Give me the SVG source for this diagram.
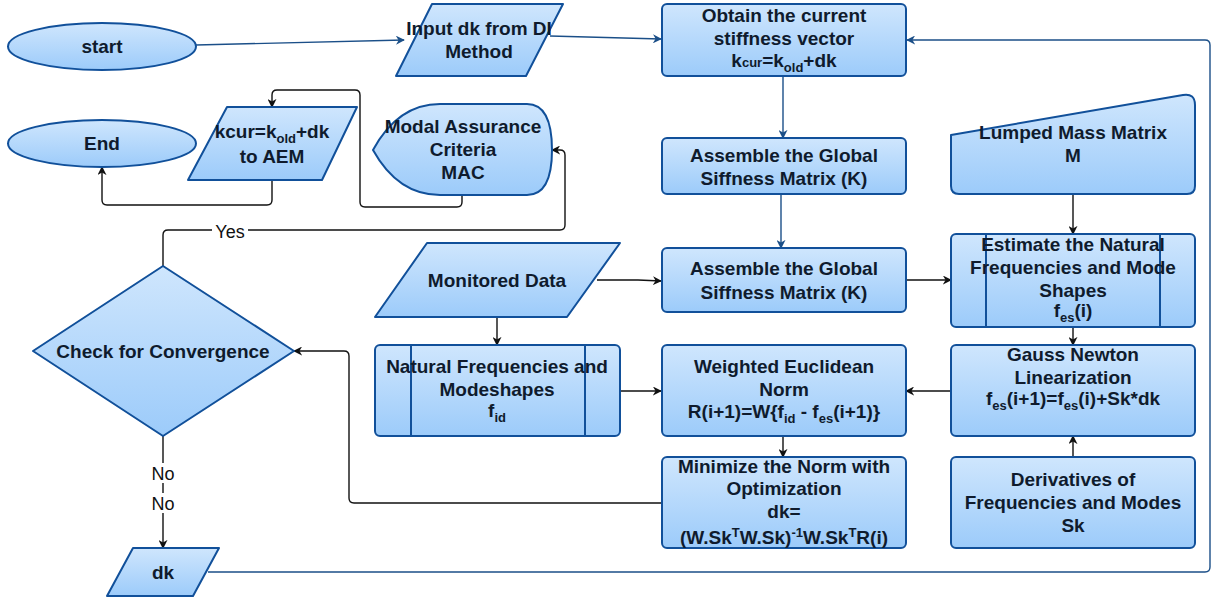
<svg xmlns="http://www.w3.org/2000/svg" width="1213" height="601" viewBox="0 0 1213 601">
  <defs>
    <linearGradient id="fillGrad" x1="0" y1="0" x2="0" y2="1">
      <stop offset="0" stop-color="#cfe6fd"/>
      <stop offset="1" stop-color="#9ccbfa"/>
    </linearGradient>
    <marker id="arrowBlue" viewBox="0 0 10 10" refX="9" refY="5" markerWidth="9" markerHeight="9" markerUnits="userSpaceOnUse" orient="auto">
      <path d="M0,0 L10,5 L0,10 L3,5 Z" fill="#1b4f88"/>
    </marker>
    <marker id="arrowBlack" viewBox="0 0 10 10" refX="9" refY="5" markerWidth="9" markerHeight="9" markerUnits="userSpaceOnUse" orient="auto">
      <path d="M0,0 L10,5 L0,10 L3,5 Z" fill="#111"/>
    </marker>
    <style>
      .shape { fill: url(#fillGrad); stroke: #11509a; stroke-width: 2; stroke-linejoin: round; }
      .inner { fill: none; stroke: #11509a; stroke-width: 2; }
      .lbl { font-family: "Liberation Sans", Arial, Helvetica, sans-serif; font-size: 19px; font-weight: bold; fill: #0f1b2d; text-anchor: middle; }
      .sm { font-size: 13px; }
      .edge { font-family: "Liberation Sans", Arial, Helvetica, sans-serif; font-size: 18px; fill: #111; text-anchor: middle; }
      .cb { fill: none; stroke: #1b4f88; stroke-width: 1.4; marker-end: url(#arrowBlue); }
      .ck { fill: none; stroke: #111; stroke-width: 1.4; marker-end: url(#arrowBlack); }
      .ckn { fill: none; stroke: #111; stroke-width: 1.4; }
    </style>
  </defs>

  <!-- connectors -->
  <g id="connectors">
    <path class="cb" d="M196,45 L404,40"/>
    <path class="cb" d="M550,36 L661,39"/>
    <path class="cb" d="M783,76 L783,138"/>
    <path class="cb" d="M781,194 L781,248"/>
    <path class="ck" d="M597,280 L638,280 L661,281"/>
    <path class="ck" d="M497,317 L497,345"/>
    <path class="ck" d="M620,391 L661,391"/>
    <path class="ck" d="M906,280 L951,280"/>
    <path class="ck" d="M1073,194 L1073,234"/>
    <path class="ck" d="M1073,327 L1073,345"/>
    <path class="ck" d="M1073,457 L1073,436"/>
    <path class="ck" d="M951,391 L906,391"/>
    <path class="ck" d="M783,436 L783,457"/>
    <path class="ck" d="M662,503 L354,503 Q349,503 349,498 L349,356 Q349,351 344,351 L294,351"/>
    <path class="ck" d="M163,436 L163,548"/>
    <path class="ck" d="M163,266 L163,235 Q163,230 168,230 L560,230 Q565,230 565,225 L565,155 Q565,150 560,150 L552,150"/>
    <path class="ck" d="M462,195 L462,202 Q462,207 457,207 L365,207 Q360,207 360,202 L360,95 Q360,90 355,90 L277,90 Q272,90 272,95 L272,107"/>
    <path class="ck" d="M272,180 L272,200 Q272,205 267,205 L107,205 Q102,205 102,200 L102,167"/>
    <path class="cb" d="M208,572 L1205,572 Q1210,572 1210,567 L1210,45 Q1210,40 1205,40 L907,40"/>
    <!-- edge labels -->
    <rect x="212" y="221" width="36" height="20" fill="#fff"/>
    <text class="edge" x="230" y="238">Yes</text>
    <rect x="148" y="463" width="30" height="20" fill="#fff"/>
    <text class="edge" x="163" y="480">No</text>
    <rect x="148" y="493" width="30" height="20" fill="#fff"/>
    <text class="edge" x="163" y="510">No</text>
  </g>

  <g id="start">
    <ellipse class="shape" cx="102" cy="46.5" rx="94" ry="23.5"/>
    <text class="lbl" x="102" y="53">start</text>
  </g>

  <g id="end">
    <ellipse class="shape" cx="102" cy="143.5" rx="94" ry="23.5"/>
    <text class="lbl" x="102" y="150">End</text>
  </g>

  <g id="input-dk">
    <path class="shape" d="M432,4 L563,4 L526,76 L396,76 Z"/>
    <text class="lbl" x="479" y="35">Input dk from DI</text>
    <text class="lbl" x="479" y="58">Method</text>
  </g>

  <g id="obtain-stiffness">
    <rect class="shape" x="662" y="4" width="244" height="72" rx="5"/>
    <text class="lbl" x="784" y="22">Obtain the current</text>
    <text class="lbl" x="784" y="45">stiffness vector</text>
    <text class="lbl" x="784" y="67">k<tspan class="sm">cur</tspan>=k<tspan class="sm" dy="5">old</tspan><tspan dy="-5">+dk</tspan></text>
  </g>

  <g id="kcur-aem">
    <path class="shape" d="M227,107 L357,107 L322,180 L188,180 Z"/>
    <text class="lbl" x="272" y="138">kcur=k<tspan class="sm" dy="5">old</tspan><tspan dy="-5">+dk</tspan></text>
    <text class="lbl" x="272" y="163">to AEM</text>
  </g>

  <g id="mac">
    <path class="shape" d="M373,150 Q398,104 440,104 L527,104 Q552,104 552,150 Q552,195 527,195 L440,195 Q398,195 373,150 Z"/>
    <text class="lbl" x="463" y="133">Modal Assurance</text>
    <text class="lbl" x="463" y="156">Criteria</text>
    <text class="lbl" x="463" y="179">MAC</text>
  </g>

  <g id="assemble-1">
    <rect class="shape" x="662" y="138" width="244" height="56" rx="5"/>
    <text class="lbl" x="784" y="162">Assemble the Global</text>
    <text class="lbl" x="784" y="185">Siffness Matrix (K)</text>
  </g>

  <g id="lumped-mass">
    <path class="shape" d="M951,135 L1183,95 Q1195,93 1195,105 L1195,186 Q1195,194 1187,194 L959,194 Q951,194 951,186 Z"/>
    <text class="lbl" x="1073" y="139">Lumped Mass Matrix</text>
    <text class="lbl" x="1073" y="162">M</text>
  </g>

  <g id="monitored-data">
    <path class="shape" d="M427,243 L620,243 L567,317 L375,317 Z"/>
    <text class="lbl" x="497" y="287">Monitored Data</text>
  </g>

  <g id="assemble-2">
    <rect class="shape" x="662" y="248" width="244" height="64" rx="5"/>
    <text class="lbl" x="784" y="275">Assemble the Global</text>
    <text class="lbl" x="784" y="299">Siffness Matrix (K)</text>
  </g>

  <g id="estimate">
    <rect class="shape" x="951" y="234" width="244" height="93" rx="5"/>
    <line class="inner" x1="986" y1="234" x2="986" y2="327"/>
    <line class="inner" x1="1160" y1="234" x2="1160" y2="327"/>
    <text class="lbl" x="1073" y="251">Estimate the Natural</text>
    <text class="lbl" x="1073" y="274">Frequencies and Mode</text>
    <text class="lbl" x="1073" y="297">Shapes</text>
    <text class="lbl" x="1073" y="317">f<tspan class="sm" dy="5">es</tspan><tspan dy="-5">(i)</tspan></text>
  </g>

  <g id="check-convergence">
    <path class="shape" d="M163,266 L294,351 L163,436 L33,351 Z"/>
    <text class="lbl" x="163" y="358">Check for Convergence</text>
  </g>

  <g id="natural-frequencies">
    <rect class="shape" x="375" y="345" width="245" height="91" rx="5"/>
    <line class="inner" x1="411" y1="345" x2="411" y2="436"/>
    <line class="inner" x1="585" y1="345" x2="585" y2="436"/>
    <text class="lbl" x="497" y="373">Natural Frequencies and</text>
    <text class="lbl" x="497" y="396">Modeshapes</text>
    <text class="lbl" x="497" y="417">f<tspan class="sm" dy="5">id</tspan></text>
  </g>

  <g id="weighted-norm">
    <rect class="shape" x="662" y="345" width="244" height="91" rx="5"/>
    <text class="lbl" x="784" y="373">Weighted Euclidean</text>
    <text class="lbl" x="784" y="396">Norm</text>
    <text class="lbl" x="784" y="418">R(i+1)=W{f<tspan class="sm" dy="5">id</tspan><tspan dy="-5"> - f</tspan><tspan class="sm" dy="5">es</tspan><tspan dy="-5">(i+1)}</tspan></text>
  </g>

  <g id="gauss-newton">
    <rect class="shape" x="951" y="345" width="244" height="91" rx="5"/>
    <text class="lbl" x="1073" y="361">Gauss Newton</text>
    <text class="lbl" x="1073" y="384">Linearization</text>
    <text class="lbl" x="1073" y="405">f<tspan class="sm" dy="5">es</tspan><tspan dy="-5">(i+1)=f</tspan><tspan class="sm" dy="5">es</tspan><tspan dy="-5">(i)+Sk*dk</tspan></text>
  </g>

  <g id="minimize-norm">
    <rect class="shape" x="662" y="457" width="244" height="91" rx="5"/>
    <text class="lbl" x="784" y="473">Minimize the Norm with</text>
    <text class="lbl" x="784" y="495">Optimization</text>
    <text class="lbl" x="784" y="518">dk=</text>
    <text class="lbl" x="784" y="544">(W.Sk<tspan class="sm" dy="-7">T</tspan><tspan dy="7">W.Sk)</tspan><tspan class="sm" dy="-7">-1</tspan><tspan dy="7">W.Sk</tspan><tspan class="sm" dy="-7">T</tspan><tspan dy="7">R(i)</tspan></text>
  </g>

  <g id="derivatives">
    <rect class="shape" x="951" y="457" width="244" height="91" rx="5"/>
    <text class="lbl" x="1073" y="486">Derivatives of</text>
    <text class="lbl" x="1073" y="509">Frequencies and Modes</text>
    <text class="lbl" x="1073" y="532">Sk</text>
  </g>

  <g id="dk">
    <path class="shape" d="M133,548 L219,548 L193,596 L107,596 Z"/>
    <text class="lbl" x="163" y="579">dk</text>
  </g>
</svg>
